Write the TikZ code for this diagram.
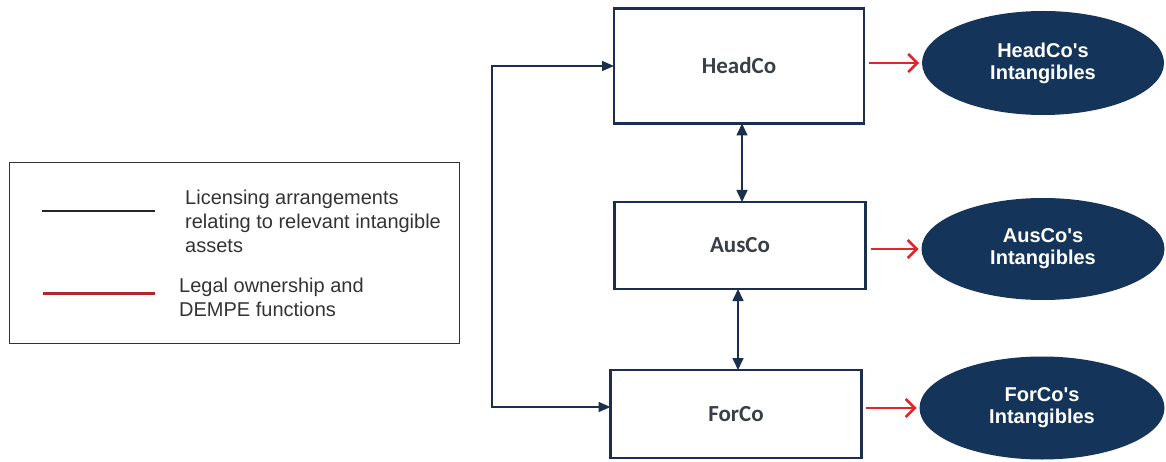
\documentclass[tikz,border=0pt]{standalone}
\usepackage{fontspec}
\setmainfont{Liberation Sans}
\newfontfamily\boxfont{Carlito}
\usetikzlibrary{arrows.meta,shapes.geometric}
\definecolor{navy}{HTML}{1B2F4C}
\definecolor{ovalfill}{HTML}{15345A}
\definecolor{boxtext}{HTML}{3A3F47}
\definecolor{redarrow}{HTML}{E0262A}
\definecolor{legendred}{HTML}{B3262E}
\definecolor{legendtext}{HTML}{333333}

\begin{document}
\begin{tikzpicture}[x=1pt,y=-1pt,
  entity/.style={draw=navy, line width=2.8pt, fill=white, inner sep=0pt, outer sep=0pt,
    font=\boxfont\bfseries\fontsize{23}{27}\selectfont, text=boxtext},
  asset/.style={ellipse, fill=ovalfill, inner sep=0pt, outer sep=0pt, text=white, align=center,
    font=\bfseries\fontsize{20}{22}\selectfont},
  link/.style={draw=navy, line width=1.6pt, {Triangle[length=12pt,width=11pt]}-{Triangle[length=12pt,width=11pt]}},
  feed/.style={draw=navy, line width=1.4pt},
  owns/.style={draw=redarrow, line width=2.4pt, -{Straight Barb[length=9pt,width=18pt,line width=2.6pt]}},
  legendtxt/.style={anchor=west, align=left, inner sep=0pt, text=legendtext,
    font=\fontsize{20}{24}\selectfont}]
\useasboundingbox (0,0) rectangle (1166,462);

% group entities
\node[entity, minimum width=250pt, minimum height=115pt] (hc) at (739,66) {HeadCo};
\node[entity, minimum width=251pt, minimum height=87pt] (ac) at (740,245.5) {AusCo};
\node[entity, minimum width=251pt, minimum height=88pt] (fc) at (736,414) {ForCo};

% intangible assets held by each entity
\node[asset, minimum width=242pt, minimum height=104pt] (hco) at (1043,63) {HeadCo\textquotesingle s\\Intangibles};
\node[asset, minimum width=243pt, minimum height=102pt] (aco) at (1043,249) {AusCo\textquotesingle s\\Intangibles};
\node[asset, minimum width=245pt, minimum height=103pt] (fco) at (1042,408) {ForCo\textquotesingle s\\Intangibles};

% licensing arrangements between entities
\draw[link] ([xshift=3pt]hc.south) -- ([xshift=3pt]hc.south |- ac.north);
\draw[link] ([xshift=-2pt]ac.south) -- ([xshift=-2pt]ac.south |- fc.north);

\coordinate (bus) at (492,0);
\coordinate (fcin) at ([yshift=7pt]fc.west);
\draw[feed, {Triangle[length=12pt,width=10pt]}-{Triangle[length=12pt,width=10pt]}]
  (hc.west) -- (hc.west -| bus) -- (fcin -| bus) -- (fcin);

% legal ownership and DEMPE functions
\draw[owns, shorten <=5pt, shorten >=3pt] (hc.east |- hco.west) -- (hco.west);
\draw[owns, shorten <=5pt, shorten >=3pt] (ac.east |- aco.west) -- (aco.west);
\draw[owns, shorten <=4pt, shorten >=3pt] (fc.east |- fco.west) -- (fco.west);

% legend
\node[draw=black!80, line width=1.2pt, minimum width=450pt, minimum height=181pt,
  inner sep=0pt] (legend) at (234.5,253) {};
\coordinate (k1a) at (42,211);
\coordinate (k1b) at (155,211);
\coordinate (k2a) at (43,293);
\coordinate (k2b) at (155,293);
\draw[black!85, line width=1.5pt] (k1a) -- (k1b);
\draw[legendred, line width=3pt] (k2a) -- (k2b);
\node[legendtxt] (t1) at (185,221) {Licensing arrangements\\relating to relevant intangible\\assets};
\node[legendtxt] (t2) at (179,297) {Legal ownership and\\DEMPE functions};
\end{tikzpicture}
\end{document}
